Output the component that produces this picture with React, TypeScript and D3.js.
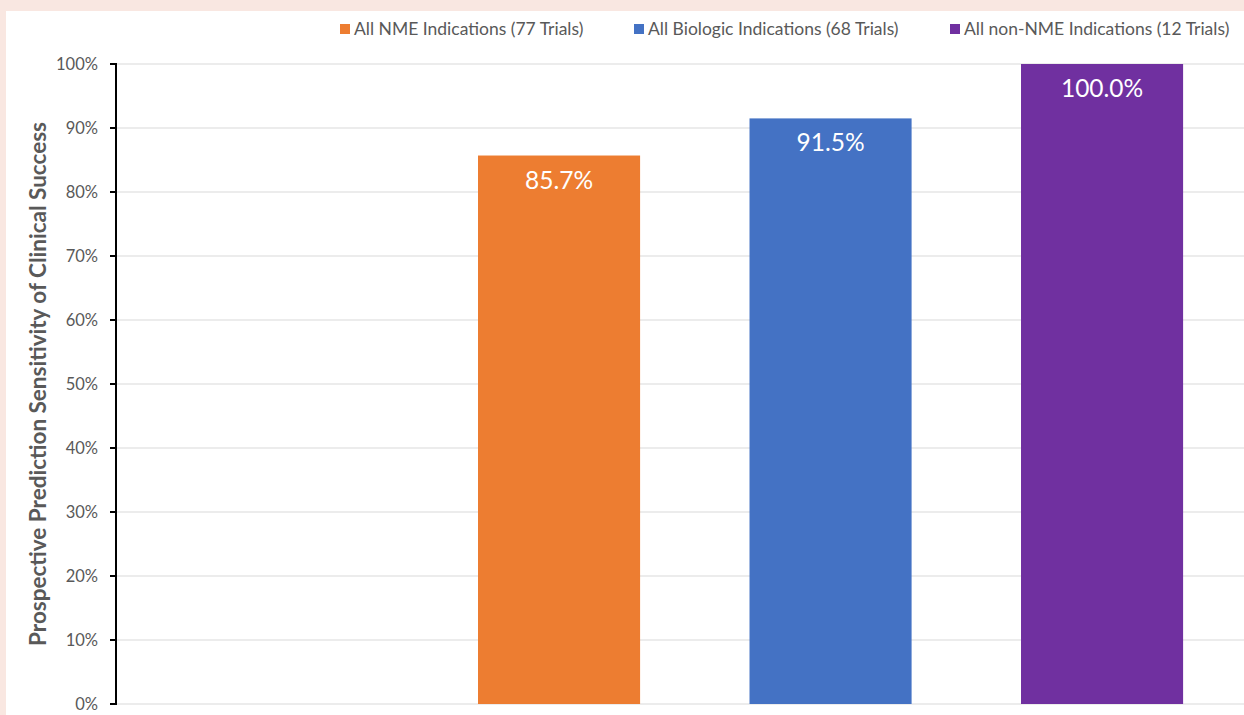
import React from "react";
import * as d3 from "d3";

const series = [
  "All NME Indications (77 Trials)",
  "All Biologic Indications (68 Trials)",
  "All non-NME Indications (12 Trials)",
];
const values = [85.7, 91.5, 100.0];
const colors = ["#ED7D31", "#4472C4", "#7030A0"];
const yTicks = [0, 10, 20, 30, 40, 50, 60, 70, 80, 90, 100];
const yTitle = "Prospective Prediction Sensitivity of Clinical Success";

const W = 1244;
const H = 715;
const axisX = 116;
const y0 = 704;
const y1 = 64;

export default function App() {
  const y = d3.scaleLinear().domain([0, 100]).range([y0, y1]);
  const x = d3
    .scaleBand<string>()
    .domain(series)
    .range([423.7, 1237.4])
    .paddingInner(0.403)
    .paddingOuter(0.2);

  const legendX = [340, 634, 950];
  const font = "Lato, 'Open Sans', sans-serif";

  return (
    <div style={{ position: "absolute", left: 0, top: 0 }}>
      <svg width={W} height={H} style={{ display: "block" }}>
        <rect x={0} y={0} width={W} height={H} fill="#F9E7E1" />
        <rect x={6} y={11} width={W - 6} height={H - 11} fill="#FFFFFF" />
        {yTicks.map((t) => (
          <g key={t}>
            <line x1={axisX} x2={W} y1={y(t)} y2={y(t)} stroke="#D9D9D9" strokeWidth={1} />
            <line x1={axisX - 6} x2={axisX} y1={y(t)} y2={y(t)} stroke="#000" strokeWidth={2} />
            <text
              x={98}
              y={y(t)}
              dy="0.35em"
              textAnchor="end"
              fontFamily={font}
              fontSize={16.5}
              fill="#595959"
            >
              {t}%
            </text>
          </g>
        ))}
        {series.map((s, i) => (
          <g key={s}>
            <rect
              x={x(s)}
              y={y(values[i])}
              width={x.bandwidth()}
              height={y(0) - y(values[i])}
              fill={colors[i]}
            />
            <text
              x={(x(s) as number) + x.bandwidth() / 2}
              y={y(values[i]) + 33}
              textAnchor="middle"
              fontFamily={font}
              fontSize={24.5}
              fill="#FFFFFF"
            >
              {values[i].toFixed(1)}%
            </text>
          </g>
        ))}
        <line x1={axisX} x2={axisX} y1={y1 - 1} y2={y0 + 1} stroke="#000" strokeWidth={2} />
        <text
          transform={`translate(46, ${(y0 + y1) / 2}) rotate(-90)`}
          textAnchor="middle"
          fontFamily={font}
          fontSize={22.5}
          fontWeight="bold"
          fill="#595959"
        >
          {yTitle}
        </text>
        {series.map((s, i) => (
          <g key={"l" + s}>
            <rect x={legendX[i]} y={24} width={10} height={10} fill={colors[i]} />
            <text
              x={legendX[i] + 14}
              y={35}
              fontFamily={font}
              fontSize={17.5}
              fill="#595959"
            >
              {s}
            </text>
          </g>
        ))}
      </svg>
    </div>
  );
}
